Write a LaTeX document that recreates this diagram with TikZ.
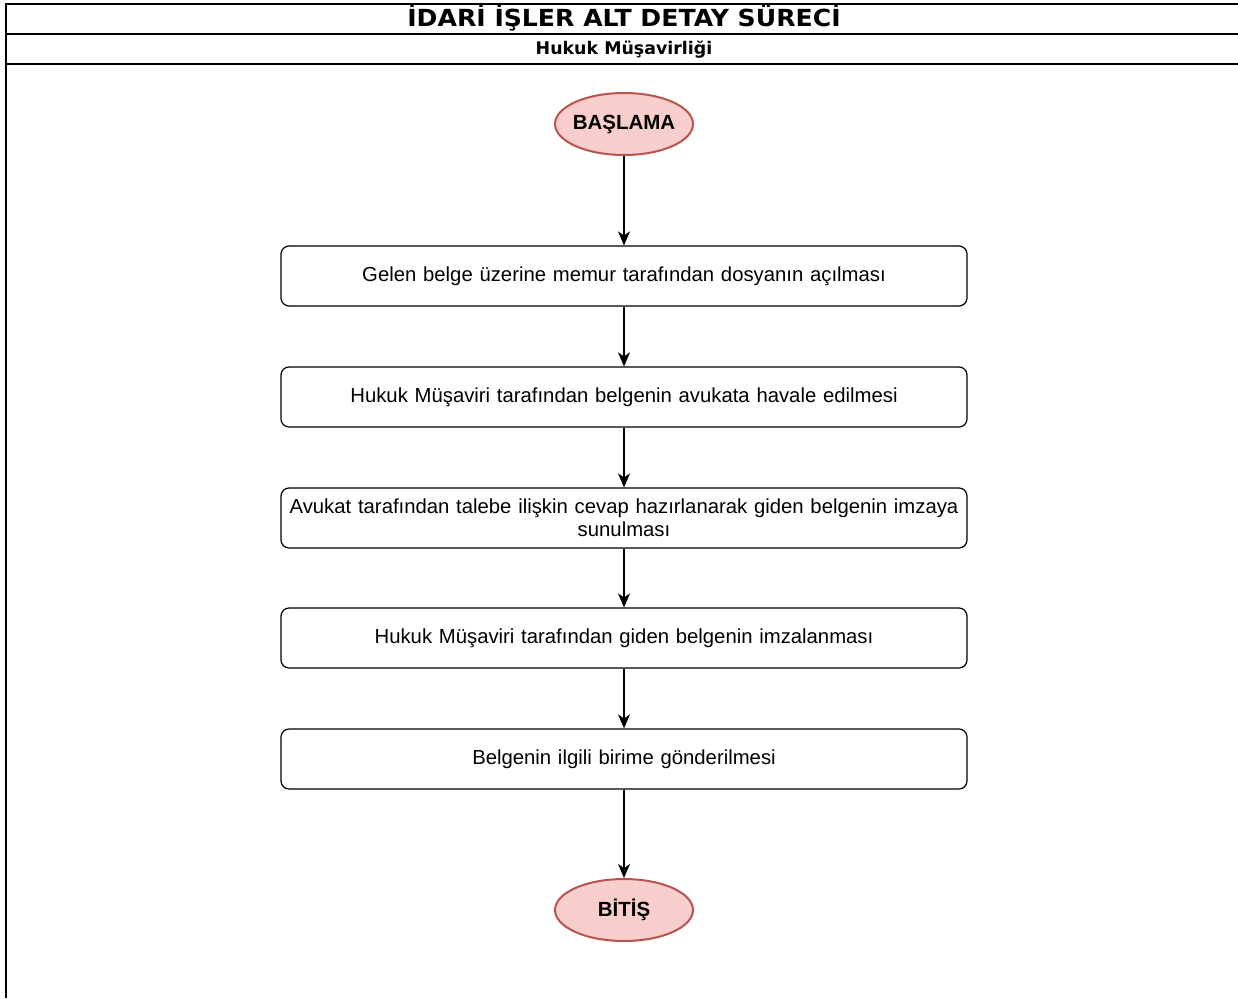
\documentclass[tikz,border=0pt]{standalone}
\usepackage{fontspec}
\setmainfont{Liberation Sans}
\newfontfamily\titlefont{DejaVu Sans}
\newfontfamily\widetitlefont{DejaVu Sans}[FakeStretch=1.07]
\usepackage{xcolor}
\usepackage{tikz}
\usetikzlibrary{shapes.geometric, arrows.meta, positioning}

\definecolor{termfill}{HTML}{F8CECC}
\definecolor{termdraw}{HTML}{B85450}
\newcommand{\termtext}[1]{\makebox[0pt]{#1}}

\begin{document}
\begin{tikzpicture}[x=1pt, y=-1pt, node distance=121pt, auto]
    \tikzstyle{term} = [ellipse, draw=termdraw, fill=termfill, line width=2pt, minimum width=138pt, minimum height=62pt, inner sep=0pt, font=\fontsize{20.5}{24}\selectfont\bfseries]
    \tikzstyle{block} = [rectangle, draw, line width=1.2pt, rounded corners=8pt, minimum width=686pt, minimum height=60pt, inner sep=4pt, text width=678pt, align=center, font=\fontsize{20.3}{23}\selectfont]
    \tikzstyle{line} = [draw, -{Stealth[length=14pt, width=12pt, inset=4pt]}, line width=1.2pt]

    \useasboundingbox (0,0) rectangle (1238,998);
    % header frame
    \draw [line width=1.2pt] (6,998) -- (6,4) -- (1238,4);
    \draw [line width=1.2pt] (6,34) -- (1238,34);
    \draw [line width=1.2pt] (6,64) -- (1238,64);
    \node [anchor=base, inner sep=0pt, font=\widetitlefont\fontsize{23.5}{28}\selectfont\bfseries] (title) at (624,27) {İDARİ İŞLER ALT DETAY SÜRECİ};
    \node [anchor=base, inner sep=0pt, font=\titlefont\fontsize{17.4}{20}\selectfont\bfseries] (subtitle) at (624,54.5) {Hukuk Müşavirliği};

    \node [term] (start) at (624,124) {\termtext{BAŞLAMA}};
    \node [block, below of=start, node distance=152pt] (open) {Gelen belge üzerine memur tarafından dosyanın açılması};
    \node [block, below of=open] (forward) {Hukuk Müşaviri tarafından belgenin avukata havale edilmesi};
    \node [block, below of=forward] (reply) {Avukat tarafından talebe ilişkin cevap hazırlanarak giden belgenin imzaya\\sunulması};
    \node [block, below of=reply, node distance=120pt] (sign) {Hukuk Müşaviri tarafından giden belgenin imzalanması};
    \node [block, below of=sign] (send) {Belgenin ilgili birime gönderilmesi};
    \node [term, below of=send, node distance=151pt] (stop) {\termtext{BİTİŞ}};

    \path [line] (start) -- (open);
    \path [line] (open) -- (forward);
    \path [line] (forward) -- (reply);
    \path [line] (reply) -- (sign);
    \path [line] (sign) -- (send);
    \path [line] (send) -- (stop);
\end{tikzpicture}
\end{document}
